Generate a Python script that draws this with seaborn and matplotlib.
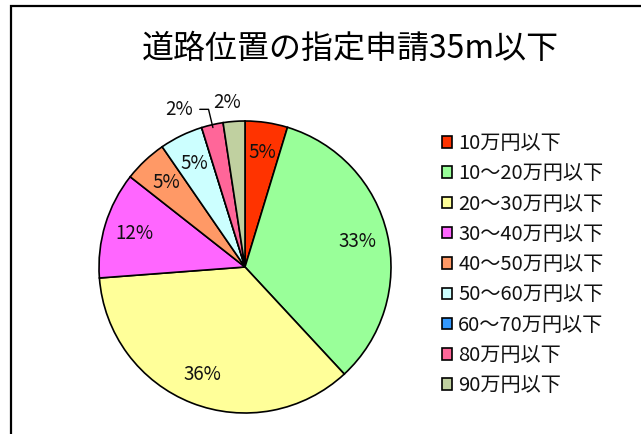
import numpy as np
import matplotlib
matplotlib.use("Agg")
import matplotlib.pyplot as plt
import seaborn as sns
from matplotlib.patches import Rectangle
from matplotlib.lines import Line2D

# データ（円グラフから読み取り）
カテゴリ = ['10万円以下', '10～20万円以下', '20～30万円以下', '30～40万円以下',
         '40～50万円以下', '50～60万円以下', '60～70万円以下', '80万円以下', '90万円以下']
割合 = [4.7, 33.4, 35.7, 11.8, 4.8, 4.8, 0.0, 2.4, 2.4]
色 = ['#FF3300', '#99FF99', '#FFFF99', '#FF66FF', '#FF9966',
     '#CCFFFF', '#3399FF', '#FF6699', '#C0D0A0']
外側ラベル = ['80万円以下', '90万円以下']

sns.set_theme(style="white")
plt.rcParams['font.family'] = ['Noto Sans CJK JP', 'DejaVu Sans']

fig = plt.figure(figsize=(6.41, 4.34), dpi=100)
W, H = 641, 434
cx, cy, R = 245, 267, 146
x0, x1, ytop, ybot = 60, 430, 80, 430
ax = fig.add_axes([x0 / W, (H - ybot) / H, (x1 - x0) / W, (ybot - ytop) / H])

wedges, texts, autotexts = ax.pie(
    割合, colors=色, startangle=90, counterclock=False,
    autopct=lambda p: f'{p:.0f}%' if p > 0.05 else '',
    pctdistance=0.79, wedgeprops=dict(edgecolor='black', linewidth=1.2),
    textprops=dict(fontsize=13.5, color='#111111'))
ax.set_xlim(-(cx - x0) / R, (x1 - cx) / R)
ax.set_ylim(-(ybot - cy) / R, (cy - ytop) / R)
ax.set_aspect('auto')
ax.axis('off')

# 小さい扇形はラベルを外側へ
for w, t, name in zip(wedges, autotexts, カテゴリ):
    if name in 外側ラベル:
        th = np.deg2rad((w.theta1 + w.theta2) / 2)
        if name == '80万円以下':
            lx, ly = -0.45, 1.08
            t.set_position((lx, ly))
            ex, ey = 0.98 * np.cos(th), 0.98 * np.sin(th)
            ax.add_line(Line2D([lx + 0.14, ex - 0.03, ex], [ly, ly, ey],
                               color='black', lw=1))
        else:
            t.set_position((1.14 * np.cos(th) - 0.04, 1.13 * np.sin(th)))

ax.legend(wedges, カテゴリ, loc='upper left', bbox_to_anchor=(432 / W, 1 - 123 / H),
          bbox_transform=fig.transFigure, frameon=False, fontsize=14.5,
          handlelength=0.5, handleheight=0.5, handletextpad=0.3,
          labelspacing=0.46, borderpad=0, labelcolor='#111111')

fig.text(350 / W, 1 - 49 / H, '道路位置の指定申請35m以下', ha='center', va='center',
         fontsize=23, color='black')

fig.add_artist(Rectangle((11 / W, -0.1), 2, (H - 6) / H + 0.1, transform=fig.transFigure,
                         fill=False, edgecolor='black', linewidth=1.6))

fig.savefig('out.png', dpi=100)
